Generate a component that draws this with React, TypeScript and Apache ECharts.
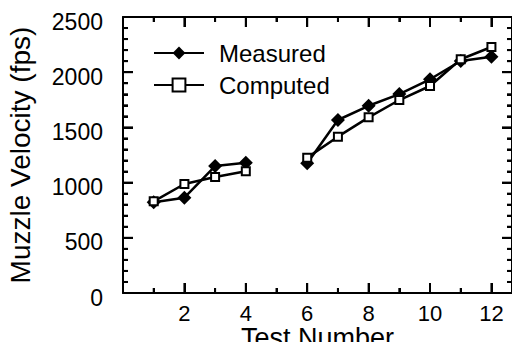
import React, { useEffect, useRef } from "react";
import * as echarts from "echarts";

const testNumbers = [1, 2, 3, 4, 5, 6, 7, 8, 9, 10, 11, 12];
const measured: (number | null)[] = [822, 863, 1150, 1180, null, 1175, 1567, 1696, 1802, 1936, 2101, 2140];
const computed: (number | null)[] = [830, 987, 1051, 1102, null, 1226, 1416, 1591, 1748, 1875, 2117, 2228];
const seriesNames = ["Measured", "Computed"];
const xTitle = "Test Number";
const yTitle = "Muzzle Velocity (fps)";

const xMajorTicks = [2, 4, 6, 8, 10, 12];
const xMinorTicks = [1, 3, 5, 7, 9, 11];
const yMajorTicks = [500, 1000, 1500, 2000];
const yMinorTicks = [100, 200, 300, 400, 600, 700, 800, 900, 1100, 1200, 1300, 1400, 1600, 1700, 1800, 1900, 2100, 2200, 2300, 2400];

const X_MIN = 0;
const X_MAX = 12.67;
const Y_MIN = 0;
const Y_MAX = 2500;

const FONT = "Liberation Sans, Arial, sans-serif";

export default function App() {
  const ref = useRef<HTMLDivElement>(null);
  useEffect(() => {
    if (!ref.current) return;
    const chart = echarts.init(ref.current, null, { renderer: "svg" });
    const toPairs = (vals: (number | null)[]) =>
      testNumbers.map((x, i) => [x, vals[i] == null ? "-" : vals[i]]);

    // tick rows: [value, isYAxis, length]
    const tickRows = [
      ...xMajorTicks.map((v) => [v, 0, 10]),
      ...xMinorTicks.map((v) => [v, 0, 5]),
      ...yMajorTicks.map((v) => [v, 1, 10]),
      ...yMinorTicks.map((v) => [v, 1, 5]),
    ];

    const mkLine = (show: boolean) => ({ show, onZero: false, lineStyle: { color: "#000", width: 2 } });
    const mkTick = (len: number) => ({ show: true, inside: true, length: len, lineStyle: { color: "#000", width: 2 } });
    const mkX = (position: string, interval: number, tickLen: number, showLine: boolean) => ({
      type: "value",
      min: X_MIN,
      max: X_MAX,
      interval,
      position,
      splitLine: { show: false },
      axisLine: mkLine(showLine),
      axisTick: mkTick(tickLen),
      axisLabel: { show: false },
    });
    const mkY = (position: string) => ({
      type: "value",
      min: Y_MIN,
      max: Y_MAX,
      interval: 500,
      position,
      splitLine: { show: false },
      axisLine: mkLine(true),
      axisTick: mkTick(10),
      minorTick: { show: true, splitNumber: 5, length: 5, lineStyle: { color: "#000", width: 2 } },
      axisLabel: { show: false },
    });

    const xBottomLabelled = {
      ...mkX("bottom", 2, 10, false),
      axisLabel: {
        show: true,
        fontSize: 22,
        color: "#000",
        fontFamily: FONT,
        margin: 9,
        formatter: (v: number) => (Number.isInteger(v) && v > 0 ? String(v) : ""),
      },
      name: xTitle,
      nameLocation: "middle",
      nameGap: 31,
      nameMoveOverlap: false,
      nameTextStyle: { fontSize: 27, color: "#000", fontFamily: FONT, verticalAlign: "top" },
    };
    const yLeft = {
      ...mkY("left"),
      axisLabel: {
        show: true,
        color: "#000",
        fontFamily: FONT,
        fontSize: 23,
        margin: 20,
        formatter: (v: number) => `{v|${v}}`,
        rich: {
          v: { fontSize: 23, fontFamily: FONT, color: "#000", padding: [9, 0, 0, 0] },
        },
      },
      name: yTitle,
      nameLocation: "middle",
      nameGap: 89,
      nameMoveOverlap: false,
      nameTextStyle: { fontSize: 28, color: "#000", fontFamily: FONT },
    };

    chart.setOption({
      animation: false,
      grid: { left: 123, right: 8, top: 17, bottom: 57, outerBoundsMode: "none" },
      legend: {
        orient: "vertical",
        left: 153,
        top: 37,
        padding: 0,
        itemGap: 0,
        itemWidth: 50,
        itemHeight: 16,
        data: seriesNames,
        textStyle: { fontSize: 24, color: "#000", fontFamily: FONT, lineHeight: 32, padding: [0, 0, 0, 10] },
      },
      xAxis: [
        mkX("bottom", 1, 5, true),
        xBottomLabelled,
        mkX("top", 1, 5, true),
        mkX("top", 2, 10, false),
      ],
      yAxis: [yLeft, mkY("right")],
      series: [
        {
          name: seriesNames[0],
          type: "line",
          xAxisIndex: 0,
          yAxisIndex: 0,
          data: toPairs(measured),
          connectNulls: false,
          symbol: "diamond",
          symbolSize: 14,
          lineStyle: { color: "#000", width: 2.5 },
          itemStyle: { color: "#000" },
          z: 4,
        },
        {
          name: seriesNames[1],
          type: "line",
          xAxisIndex: 0,
          yAxisIndex: 0,
          data: toPairs(computed),
          connectNulls: false,
          symbol: "emptyRect",
          symbolSize: 8,
          lineStyle: { color: "#000", width: 2.5 },
          itemStyle: { color: "#000", borderWidth: 1.2 },
          z: 4,
        },
        {
          name: "ticks",
          type: "custom",
          xAxisIndex: 0,
          yAxisIndex: 0,
          silent: true,
          clip: false,
          z: 5,
          encode: { x: 0, y: 1 },
          data: tickRows,
          renderItem: (_params: any, api: any) => {
            const v = api.value(0);
            const isY = api.value(1);
            const len = api.value(2);
            const w = 2;
            let rects: { x: number; y: number; width: number; height: number }[];
            if (!isY) {
              const b = api.coord([v, Y_MIN]);
              const t = api.coord([v, Y_MAX]);
              rects = [
                { x: b[0] - w / 2, y: b[1] - len, width: w, height: len },
                { x: t[0] - w / 2, y: t[1], width: w, height: len },
              ];
            } else {
              const l = api.coord([X_MIN, v]);
              const r = api.coord([X_MAX, v]);
              rects = [
                { x: l[0], y: l[1] - w / 2, width: len, height: w },
                { x: r[0] - len, y: r[1] - w / 2, width: len, height: w },
              ];
            }
            return {
              type: "group",
              children: rects.map((s) => ({
                type: "rect",
                shape: s,
                style: { fill: "#000" },
              })),
            };
          },
        },
      ],
    });
    return () => chart.dispose();
  }, []);
  return <div ref={ref} style={{ width: 520, height: 350, margin: -8 }} />;
}
